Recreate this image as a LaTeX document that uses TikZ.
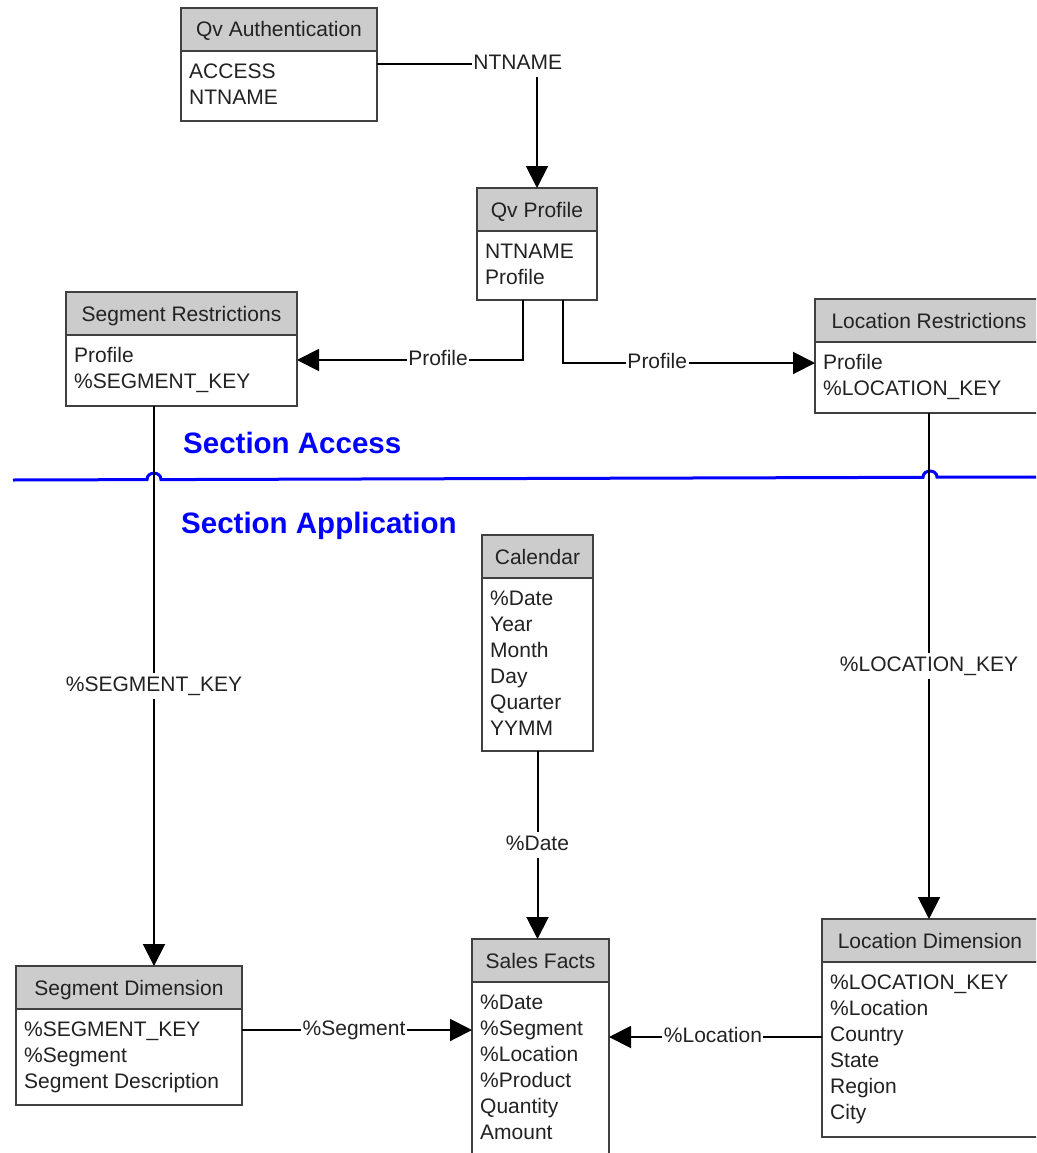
\documentclass[tikz,border=0pt]{standalone}
\usepackage{fontspec}
\setmainfont{Liberation Sans}
\usetikzlibrary{arrows.meta,calc}

\definecolor{boxline}{HTML}{404040}
\definecolor{headfill}{HTML}{CCCCCC}
\definecolor{ink}{HTML}{222222}
\definecolor{secblue}{HTML}{0000FF}

\tikzset{
  tblhead/.style={draw=boxline, fill=headfill, line width=1.5pt, minimum height=43pt,
    inner sep=0pt, outer sep=0pt, text height=15pt, text depth=0pt,
    font=\fontsize{21}{26}\selectfont, text=ink},
  tblbody/.style={draw=boxline, fill=white, line width=1.5pt, inner sep=0pt, outer sep=0pt},
  rowtext/.style={anchor=base west, inner sep=0pt, font=\fontsize{21}{26}\selectfont, text=ink},
  conn/.style={draw=black, line width=2pt, -{Triangle[length=22pt,width=22pt]}},
  lbl/.style={fill=white, inner xsep=1.5pt, inner ysep=3.5pt, text height=15pt, text depth=4.5pt,
    font=\fontsize{21}{26}\selectfont, text=ink},
  sectiontitle/.style={anchor=base west, inner sep=0pt, text=secblue,
    font=\bfseries\fontsize{29.5}{34}\selectfont},
  sepline/.style={draw=secblue, line width=3pt}
}

% table: name, left, top, width, body height, title, rows
\newcommand\dbtable[7]{%
  \node[tblhead, minimum width=#4pt, anchor=north west] (#1-h) at (#2,#3) {#6};
  \node[tblbody, minimum width=#4pt, minimum height=#5pt, anchor=north west] (#1) at (#1-h.south west) {};
  \foreach \row [count=\i] in {#7}
    \node[rowtext] (#1-r\i) at ($(#1-h.south west)+(8,{27.5+26*(\i-1)})$) {\row};
}

\begin{document}
\begin{tikzpicture}[x=1pt,y=-1pt]
\useasboundingbox (0,0) rectangle (1036,1153);
\fill[white] (0,0) rectangle (1036,1153);
\clip (0,0) rectangle (1036,1153);

% separator between the two sections, hopping over the vertical links
\draw[sepline] (13,480) -- (147,479.6)
  .. controls (147,471) and (161,471) .. (161,479.6)
  -- (923,477.3)
  .. controls (923,469) and (937,469) .. (937,477.2)
  -- (1036,477);

\node[sectiontitle] (secacc) at (183,453) {Section Access};
\node[sectiontitle] (secapp) at (181,533) {Section Application};

% tables (the two on the right run past the edge)
\dbtable{qa}{181}{8}{196}{70}{Qv Authentication}{ACCESS,NTNAME}
\dbtable{qp}{477}{188}{120}{69}{Qv Profile}{NTNAME,Profile}
\dbtable{segr}{66}{292}{231}{71}{Segment Restrictions}{Profile,\%SEGMENT\_KEY}
\dbtable{locr}{815}{299}{228}{71}{Location Restrictions}{Profile,\%LOCATION\_KEY}
\dbtable{cal}{482}{535}{111}{173}{Calendar}{\%Date,Year,Month,Day,Quarter,YYMM}
\dbtable{sf}{472}{939}{137}{175}{Sales Facts}{\%Date,\%Segment,\%Location,\%Product,Quantity,Amount}
\dbtable{segd}{16}{966}{226}{96}{Segment Dimension}{\%SEGMENT\_KEY,\%Segment,Segment Description}
\dbtable{locd}{822}{919}{216}{175}{Location Dimension}{\%LOCATION\_KEY,\%Location,Country,State,Region,City}

% link anchor points
\coordinate (qaOut) at ([yshift=-13pt]qa.north east);
\coordinate (qpL) at ([xshift=-14pt]qp.south);
\coordinate (qpR) at ([xshift=26pt]qp.south);
\coordinate (segrIn) at ([yshift=-25pt]segr.north east);
\coordinate (locrIn) at ([yshift=-21pt]locr.north west);
\coordinate (segrOut) at ([xshift=-27.5pt]segr.south);
\coordinate (segdOut) at ([yshift=-21pt]segd.north east);
\coordinate (locdOut) at ([yshift=-75pt]locd.north west);

% links
\draw[conn] (qaOut) -| node[lbl, pos=0.44] {NTNAME} (qp-h.north);
\draw[conn] (qpL) |- node[lbl, pos=0.688] {Profile} (segrIn);
\draw[conn] (qpR) |- node[lbl, pos=0.687] {Profile} (locrIn);
\draw[conn] (segrOut) -- node[lbl] {\%SEGMENT\_KEY} (segrOut |- segd-h.north);
\draw[conn] (locr.south) -- node[lbl] {\%LOCATION\_KEY} (locr.south |- locd-h.north);
\draw[conn] (cal.south) -- node[lbl] {\%Date} (cal.south |- sf-h.north);
\draw[conn] (segdOut) -- node[lbl, pos=0.487] {\%Segment} (segdOut -| sf.west);
\draw[conn] (locdOut) -- node[lbl, pos=0.512] {\%Location} (locdOut -| sf.east);
\end{tikzpicture}
\end{document}
